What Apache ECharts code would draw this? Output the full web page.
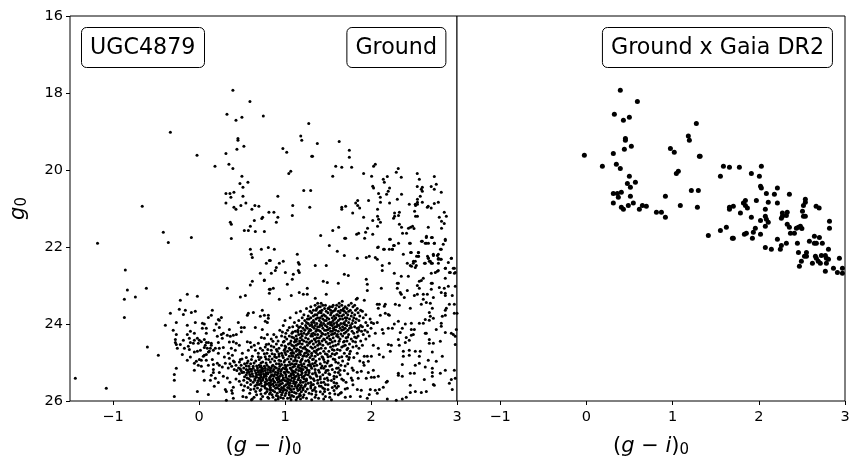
<!DOCTYPE html>
<html><head><meta charset="utf-8">
<style>html,body{margin:0;padding:0;background:#fff}#c{width:859px;height:468px}</style>
<script src="https://cdn.jsdelivr.net/npm/echarts@6/dist/echarts.min.js"></script>
</head><body><div id="c"></div>
<script>
const xTicks=[-1,0,1,2,3];
const yTicks=[16,18,20,22,24,26];
const panelLabels=['UGC4879','Ground','Ground x Gaia DR2'];

// stars that also have Gaia DR2 counterparts: [g-i, g]
const gaiaStars=[[.394,17.93],[.592,18.22],[.325,18.55],[.499,18.63],[.43,18.71],[1.276,18.79],[1.183,19.12],[1.195,19.23],[.453,19.18],[.453,19.23],[.522,19.38],[.441,19.46],[.313,19.57],[.975,19.44],[1.02,19.54],[1.311,19.64],[1.32,19.64],[-.023,19.62],[.186,19.9],[.348,19.85],[.394,19.96],[1.044,20.09],[1.067,20.03],[.499,20.16],[.569,20.32],[.476,20.35],[.511,20.45],[1.218,20.53],[1.299,20.53],[.313,20.61],[.36,20.61],[.406,20.58],[.371,20.71],[.511,20.68],[.917,20.68],[.313,20.86],[.545,20.86],[.487,20.92],[.65,20.92],[.696,20.94],[1.09,20.92],[1.288,20.97],[.406,20.97],[.43,21.02],[.615,21.02],[.813,21.1],[.871,21.1],[.917,21.23],[1.415,21.7],
[1.59,19.9],[1.66,19.93],[1.775,19.93],[2.03,19.9],[1.914,20.09],[1.555,20.16],[2.007,20.16],[2.02,20.42],[2.03,20.47],[2.216,20.47],[2.088,20.61],[2.181,20.63],[2.355,20.63],[1.845,20.79],[1.822,20.86],[1.845,20.92],[1.868,20.99],[1.972,20.79],[2.11,20.84],[2.216,20.86],[2.54,20.76],[2.54,20.84],[2.518,20.92],[2.665,20.94],[2.7,20.99],[1.705,20.94],[1.66,20.97],[1.66,21.02],[2.076,21.02],[1.787,21.12],[2.507,21.07],[2.518,21.2],[2.54,21.2],[2.274,21.12],[2.33,21.1],[2.32,21.18],[2.274,21.2],[2.262,21.25],[2.076,21.2],[2.088,21.28],[2.11,21.36],[1.914,21.23],[2.02,21.31],[2.076,21.46],[2.82,21.33],[2.82,21.51],[2.33,21.41],[2.355,21.49],[2.46,21.49],[2.483,21.46],[2.436,21.51],[2.5,21.52],[1.624,21.49],[1.555,21.57],[1.96,21.51],[1.937,21.62],[2.02,21.67],[1.856,21.64],[1.833,21.67],[1.694,21.77],[1.705,21.77],[1.926,21.77],[2.367,21.64],[2.413,21.64],[2.216,21.8],[2.645,21.72],[2.703,21.75],[2.587,21.85],[2.448,21.9],[2.645,21.9],[2.668,21.9],[2.737,21.9],[2.262,21.96],[2.32,21.9],[2.25,22.06],[2.076,22.01],[2.146,22.06],[2.808,22.06],[2.46,22.14],[2.553,22.14],[2.553,22.24],[2.53,22.24],[2.657,22.24],[2.668,22.29],[2.69,22.37],[2.714,22.42],[2.726,22.22],[2.772,22.22],[2.784,22.29],[2.808,22.32],[2.784,22.42],[2.935,22.29],[2.494,22.37],[2.471,22.5],[2.622,22.42],[2.772,22.63],[2.866,22.55],[2.912,22.66],[2.97,22.55],[2.97,22.68]];

const groundSparseUpper=[[-.333,19.02],[-.66,20.94],[-.415,21.62],[-.089,21.75],[.748,18.6],[.643,21.31],[.73,21.26],[.74,21.23],[.364,21.36],[.376,21.41],[.597,21.46],[.527,21.57],[.574,21.57],[.655,21.6],[.76,21.6],[.376,21.78],[1.376,19.31],[1.085,21.18],[.899,21.36],[1.63,19.26],[1.748,19.49],[1.748,19.67],[2.05,19.85],[2.317,19.96],[2.294,20.06],[2.19,20.17],[2.352,20.19],[2.143,20.24],[2.155,20.32],[2.2,20.55],[2.108,20.71],[2.306,20.76],[2.445,20.89],[2.538,20.43],[2.562,20.24],[2.538,20.09],[2.736,20.17],[2.759,20.37],[2.7,20.43],[2.736,20.5],[2.817,20.58],[2.597,20.45],[2.585,20.5],[2.597,20.55],[2.573,20.68],[2.515,20.89],[2.54,20.89],[2.597,20.84],[2.655,20.97],[2.736,20.87],[2.783,20.84],[2.852,21.1],[2.794,21.23],[2.876,21.2],[2.852,21.39],[2.666,21.49],[2.864,21.8]];
const groundSparseLeft=[[-1.18,21.9],[-.357,21.88],[-.857,22.6],[-.833,23.12],[-.612,23.07],[-.74,23.3],[-.868,23.36],[-.868,23.83],[-.217,23.38],[-.136,23.23],[-.019,23.28],[-.333,23.72],[-.229,23.62],[-.159,23.64],[-.182,23.75],[-.089,23.7],[-.043,23.67],[-.391,24.03],[-.264,23.96],[-.136,24.03],[-.043,23.96],[.155,23.64],[.143,23.77],[.109,23.83],[.04,23.98],[.062,24],[.085,24.11],[.039,24.11],[.085,24.24],[.2,24],[.236,23.9],[.26,23.83],[.225,23.88],[.236,24.09],[.178,24.16],[-.3,24.16],[-.264,24.27],[-.275,24.4],[-.275,24.48],[-.264,24.53],[-.217,24.53],[-.252,24.63],[-.194,24.79],[-.182,24.42],[-.6,24.6],[-.473,24.81],[-.136,24.27],[-.1,24.19],[-.054,24.24],[-.112,24.37],[-.019,24.37],[.004,24.42],[-.054,24.42],[-.1,24.48],[-.066,24.5],[-.17,24.63],[-.124,24.58],[-.112,24.66],[-.008,24.5],[.027,24.46],[.062,24.4],[.085,24.48],[.073,24.55],[.109,24.48],[.143,24.5],[.097,24.63],[.132,24.63],[.12,24.71],[.167,24.68],[.19,24.63],[.062,24.61],[.143,24.55],[-.054,24.73],[-.019,24.71],[-.1,24.86],[-.136,24.94],[.016,24.68],[.05,24.84],[.085,24.79],[.109,24.73],[.062,24.81],[-.031,24.97],[-.054,25.02],[.004,24.92],[.027,24.94],[-.008,25.07],[-.054,25.2],[.027,25.1],[.05,25.23],[.109,25.07],[.085,24.94],[.155,24.92],[-.264,25.15],[-.287,25.31],[-.287,25.46],[.062,25.46],[-.019,25.75],[.109,25.83],[-.287,25.88],[-1.438,25.41],[-1.078,25.67],[.167,25.05],[.167,25.18],[.167,25.26],[.213,25.02],[.236,25.07],[.271,25.12],[.306,25.02],[.295,24.86],[.225,24.76],[.236,24.63],[.283,24.61],[.225,24.48],[.213,24.32],[.271,24.37],[.26,24.27],[.283,24.24],[.353,24.14],[.329,24.29],[.364,24.32],[.399,24.29],[.434,24.27],[.457,23.96],[.492,24.2],[.492,24.09],[.527,24.09],[.329,23.07],[.481,23.3],[.539,23.26],[.597,22.99],[.62,22.89],[.713,22.68],[.76,22.86],[.783,22.42],[.597,22.06],[.725,22.06],[.806,22.01],[.608,22.19],[.62,22.27],[.818,22.35],[.818,23.1],[.818,23.2],[.562,23.77],[.574,23.72],[.632,23.7],[.736,23.64],[.713,23.8],[.76,23.77],[.806,23.77],[.771,23.93],[.655,24.09],[.806,23.85],[.736,24.14],[.795,23.96],[.353,24.47],[.399,24.46],[.434,24.5],[.376,24.63],[.422,24.68],[.341,24.76],[.388,24.81],[.469,24.55],[.504,24.76],[.562,24.46],[.597,24.48],[.643,24.55],[.69,24.5],[.76,24.37],[.795,24.27],[.725,24.35],[.574,24.68],[.608,24.6],[.655,24.68],[.713,24.63],[.783,24.53],[.55,24.87],[.481,24.92],[.411,24.99],[.353,24.89],[.143,25.33],[.19,25.41],[.132,25.46],[.178,25.62],[.236,25.26],[.283,25.36],[.225,25.52],[.306,25.7],[.318,25.75],[.399,25.64],[.388,25.8],[.399,25.93],[.318,25.98],[.469,25.49],[.515,25.72],[.55,25.9],[.62,25.95]];
const groundSparseRight=[[1.515,21.96],[1.608,22.11],[1.69,22.22],[1.841,22.29],[1.945,22.27],[1.98,22.24],[2.05,22.27],[2.073,22.32],[2.085,22],[2.155,22.06],[2.213,22.06],[2.248,22.06],[2.271,21.96],[2.225,21.8],[2.376,22.19],[2.457,21.9],[2.469,22.14],[2.55,22.14],[2.55,22.24],[2.597,21.85],[2.643,21.75],[2.713,21.75],[2.631,21.9],[2.736,21.9],[2.864,21.83],[2.84,21.93],[2.817,22.06],[2.783,22.19],[2.783,22.32],[2.817,22.32],[2.725,22.19],[2.666,22.29],[2.131,22.48],[2.131,22.61],[2.213,22.42],[2.422,22.42],[2.457,22.48],[2.515,22.37],[2.492,22.42],[2.527,22.48],[2.515,22.53],[2.631,22.42],[2.678,22.37],[2.701,22.42],[2.934,22.29],[2.899,22.4],[2.864,22.55],[2.957,22.55],[2.98,22.66],[2.271,22.68],[2.352,22.76],[2.434,22.76],[2.318,22.94],[2.422,23.13],[2.306,23.07],[2.352,23.23],[2.387,23.31],[2.34,23.18],[2.701,22.68],[2.748,22.66],[2.783,22.61],[2.864,22.81],[2.922,22.66],[2.608,22.81],[2.585,22.87],[2.562,22.89],[2.539,23],[2.562,23.07],[2.701,22.94],[2.713,22.94],[2.701,23.1],[2.794,23.05],[2.852,23.07],[2.899,23.02],[2.98,23.02],[2.945,23.26],[2.817,23.18],[2.864,23.2],[2.864,23.26],[2.608,23.23],[2.655,23.23],[2.504,23.26],[2.539,23.23],[2.725,23.31],[2.643,23.44],[2.69,23.46],[2.713,23.59],[2.678,23.7],[2.69,23.8],[2.608,23.36],[2.283,23.49],[2.329,23.51],[2.457,23.59],[2.585,23.49],[2.911,23.49],[2.969,23.49],[2.876,23.59],[2.864,23.64],[2.969,23.72],[3,23.72],[.876,22.06],[.829,22.35],[.899,22.53],[.887,22.61],[.841,22.68],[.934,22.42],[.98,22.37],[1.143,22.19],[1.155,22.4],[1.166,22.45],[1.155,22.61],[1.166,22.66],[1.352,22.48],[1.48,22.48],[1.004,22.66],[1.097,22.71],[1.085,22.84],[1.027,22.97],[.759,22.87],[1.69,22.71],[1.736,22.74],[1.445,22.89],[1.492,22.92],[1.62,22.94],[1.945,22.84],[1.957,22.97],[1.957,23.13],[1.48,23.23],[1.352,23.33],[1.259,23.07],[1.166,23.18],[1.213,23.23],[1.259,23.23],[1.073,23.26],[.864,23.07],[.829,23.1],[.934,23.36],[1.841,23.33],[1.829,23.36],[1.922,23.38],[1.666,23.41],[2.12,23.07],[2.306,22.94],[2.073,23.49],[2.097,23.49],[2.166,23.49],[2.155,23.54],[2.085,23.59],[2.166,23.72],[2.201,23.75],[2.108,23.77],[2.213,23.77],[2.073,23.96],[2.004,23.96],[2.131,24.14],[2.143,24.24],[2.271,24],[2.201,24.11],[2.248,24.11],[2.318,23.93],[2.399,24],[2.469,23.98],[2.364,24.11],[2.34,24.22],[2.469,24.14],[2.504,24.14],[2.492,24.27],[2.469,24.29],[2.41,24.35],[2.445,24.42],[2.399,24.48],[2.562,23.98],[2.608,23.98],[2.631,23.88],[2.678,23.9],[2.725,23.85],[2.759,24.14],[2.817,23.98],[2.817,24.06],[2.864,23.77],[2.829,23.8],[2.631,24.24],[2.643,24.24],[2.864,24.22],[2.934,24.24],[2.957,24.27],[2.992,24.14],[2.98,24.32],[2.678,24.4],[2.725,24.5],[2.678,24.5],[2.806,24.45],[2.98,24.53],[2.201,24.53],[2.236,24.55],[2.224,24.71],[2.318,24.4],[2.329,24.55],[2.376,24.71],[2.445,24.68],[2.445,24.81],[2.515,24.71],[2.376,24.84],[2.573,24.71],[2.713,24.73],[2.829,24.84],[2.562,24.84],[2.666,24.94],[2.759,24.97],[2.364,25.05],[2.515,25.07],[2.562,25.02],[2.631,25.12],[2.318,25.28],[2.318,25.33],[2.364,25.36],[2.457,25.28],[2.457,25.59],[2.504,25.28],[2.62,25.44],[2.713,25.15],[2.713,25.26],[2.713,25.36],[2.806,25.28],[2.864,25.2],[2.969,25.2],[2.725,25.57],[2.736,25.59],[2.934,25.44],[2.911,25.54],[2.98,25.41],[2.945,25.7],[2.457,25.78],[2.515,25.75],[2.585,25.78],[2.643,25.75],[2.41,25.9],[2.364,25.95],[2.294,25.98],[2.19,25.95],[2.143,25.64],[2.097,25.7],[2.073,25.8],[2.05,25.72],[2.027,25.2],[2.085,25.36],[2.038,25.38],[2.004,25.38],[1.969,25.26],[1.945,25.41],[2.19,25.49],[2.178,25.51],[1.992,25.7],[1.98,25.83],[1.887,25.72],[1.841,25.7],[1.783,25.46],[1.852,25.41],[1.887,25.23],[1.911,25],[1.969,24.97],[2.027,24.55],[2.097,24.79],[2.143,24.86],[2.085,24.63],[2.004,24.84],[1.957,24.84],[1.922,24.84],[1.876,25.88],[1.957,25.93],[1.76,25.88],[1.701,25.9],[1.643,25.8],[1.725,25.67],[1.655,25.78],[1.794,25.2],[1.748,24.87]];

// the crowded part of the diagram, estimated strip by strip: [g, [g-i values in that strip]]
const groundDense=[
[23.46,[1.38,1.42,1.63,1.77]],
[23.51,[1.35,1.44,1.47,1.56,1.6,1.66,1.74,1.81]],
[23.55,[1.3,1.39,1.41,1.52,1.55,1.63,1.7,1.79]],
[23.6,[1.25,1.37,1.46,1.5,1.51,1.59,1.68,1.72,1.84]],
[23.64,[1.33,1.36,1.43,1.53,1.58,1.65,1.67,1.76,1.82,1.88]],
[23.67,[1.18,1.29,1.41,1.48,1.56,1.62,1.69,1.74,1.9]],
[23.71,[1.13,1.31,1.39,1.42,1.5,1.54,1.64,1.71,1.78,1.85]],
[23.76,[1.22,1.35,1.37,1.45,1.53,1.6,1.61,1.68,1.73,1.81,1.94]],
[23.79,[1.27,1.33,1.43,1.47,1.57,1.63,1.66,1.77,1.87]],
[23.84,[1.06,1.2,1.3,1.38,1.41,1.49,1.55,1.59,1.7,1.72,1.8,1.91]],
[23.87,[1.26,1.28,1.36,1.44,1.51,1.58,1.64,1.67,1.75,1.83,1.99]],
[23.91,[1,1.16,1.23,1.33,1.4,1.46,1.48,1.56,1.62,1.71,1.79,1.86]],
[23.96,[1.11,1.25,1.31,1.34,1.42,1.52,1.54,1.6,1.69,1.74,1.82,1.94]],
[23.99,[1.2,1.27,1.37,1.45,1.5,1.57,1.65,1.68,1.78,2.03]],
[24.04,[.98,1.14,1.24,1.29,1.35,1.43,1.47,1.55,1.63,1.72,1.76,1.88,1.96]],
[24.07,[1.09,1.18,1.32,1.38,1.4,1.49,1.58,1.6,1.67,1.81,1.9]],
[24.11,[1.21,1.26,1.34,1.44,1.52,1.56,1.64,1.7,1.75,1.84,2]],
[24.16,[.94,1.03,1.15,1.23,1.3,1.39,1.46,1.48,1.59,1.66,1.73,1.86,1.93]],
[24.19,[1.12,1.19,1.28,1.36,1.41,1.53,1.55,1.62,1.78,1.89]],
[24.24,[1.01,1.08,1.22,1.27,1.33,1.43,1.5,1.58,1.69,1.8,2.05]],
[24.27,[.87,1.16,1.25,1.35,1.38,1.47,1.54,1.61,1.74,1.91]],
[24.31,[.96,1.05,1.13,1.2,1.3,1.32,1.42,1.51,1.6,1.67,1.85,1.98]],
[24.36,[1.1,1.18,1.24,1.37,1.4,1.49,1.56,1.71,1.83]],
[24.39,[.84,1.02,1.14,1.27,1.34,1.45,1.52,1.64,1.77,1.94]],
[24.44,[.92,1.07,1.17,1.22,1.31,1.39,1.43,1.58,1.72,1.88]],
[24.47,[.98,1.11,1.25,1.29,1.36,1.48,1.55,1.68,1.82]],
[24.52,[.81,.9,1.04,1.15,1.2,1.33,1.41,1.5,1.62,1.75]],
[24.55,[.96,1.08,1.13,1.26,1.38,1.44,1.59,1.7,1.9]],
[24.6,[.77,.87,1.01,1.18,1.23,1.3,1.35,1.53,1.66,1.79]],
[24.63,[.93,1.05,1.11,1.21,1.32,1.42,1.47,1.73,1.86]],
[24.68,[.74,.84,.99,1.08,1.16,1.26,1.37,1.57,1.64]],
[24.71,[.91,1.03,1.13,1.19,1.28,1.34,1.45,1.51,1.76]],
[24.76,[.69,.79,.96,1.07,1.1,1.23,1.31,1.41,1.6,1.69,1.84]],
[24.79,[.88,1.01,1.15,1.18,1.27,1.38,1.49,1.58]],
[24.84,[.62,.82,.93,1.05,1.09,1.21,1.25,1.35,1.53,1.72]],
[24.87,[.72,.9,.98,1.12,1.16,1.29,1.44,1.63,1.8]],
[24.91,[.5,.78,.85,1.03,1.07,1.2,1.33,1.4,1.56]],
[24.96,[.4,.57,.66,.88,.95,1.1,1.14,1.24,1.36,1.5,1.67,1.87]],
[24.99,[.47,.74,.83,.99,1.05,1.18,1.28,1.46,1.59]],
[25.03,[.36,.53,.6,.9,.93,1.08,1.13,1.22,1.32,1.41,1.73]],
[25.07,[.43,.49,.7,.79,.86,1.0,1.03,1.16,1.27,1.37,1.54,1.65,1.92]],
[25.1,[.38,.58,.63,.76,.94,1.11,1.2,1.3,1.47]],
[25.14,[.34,.46,.52,.68,.73,.84,.9,.98,1.06,1.17,1.25,1.42,1.62,1.78]],
[25.18,[.41,.55,.61,.8,.87,.96,1.02,1.13,1.21,1.35,1.55]],
[25.21,[.44,.49,.65,.71,.77,.92,1.08,1.16,1.28,1.48,1.69]],
[25.25,[.52,.58,.69,.83,.89,.99,1.04,1.12,1.24,1.4,1.58,1.84]],
[25.29,[.47,.62,.75,.8,.95,1.07,1.15,1.32,1.51,1.73]],
[25.32,[.55,.67,.72,.85,.91,1.01,1.1,1.19,1.27,1.44,1.64]],
[25.36,[.6,.63,.78,.87,.94,1.05,1.13,1.22,1.37,1.57]],
[25.4,[.33,.56,.7,.82,.9,.98,1.08,1.16,1.3,1.49,1.77]],
[25.43,[.43,.65,.74,.86,.93,1.03,1.11,1.25,1.41,1.66]],
[25.47,[.6,.69,.79,.84,.96,1.0,1.07,1.18,1.34,1.54]],
[25.51,[.36,.63,.77,.88,.92,1.04,1.13,1.21,1.45,1.71]],
[25.54,[.72,.81,.97,1.06,1.1,1.27,1.38,1.6]],
[25.58,[.49,.67,.84,.9,.94,1.01,1.16,1.31,1.5,1.79]],
[25.62,[.76,.87,.99,1.08,1.12,1.23,1.42,1.62]],
[25.65,[.57,.83,.91,.96,1.03,1.18,1.35,1.55]],
[25.69,[.64,.79,.93,1.06,1.1,1.26,1.46,1.7]],
[25.73,[.38,.71,.86,.98,1.02,1.15,1.32,1.57]],
[25.76,[.88,.94,1.08,1.19,1.41]],
[25.8,[.59,.77,.91,1.01,1.13,1.28,1.52]],
[25.84,[.67,.85,.96,1.05,1.22,1.36,1.62]],
[25.88,[.51,.74,.92,1.1,1.16,1.47]],
[25.93,[.81,.98,1.03,1.25,1.39]],
[25.97,[.61,.89,1.07,1.13,1.31,1.54]],
// second pass over the darkest parts
[24.02,[1.31,1.41,1.53,1.61,1.7]],[24.14,[1.29,1.37,1.5,1.57,1.68]],[24.26,[1.19,1.31,1.44,1.56,1.65]],[24.41,[1.12,1.2,1.35,1.46,1.53]],[24.5,[1.06,1.17,1.28,1.4,1.52]],
[24.65,[1.0,1.14,1.24,1.39]],[24.74,[1.0,1.09,1.17,1.25,1.36]],[24.82,[.97,1.08,1.13,1.22,1.31]],[24.94,[.93,1.0,1.12,1.19,1.27]],[25.05,[.96,1.06,1.11,1.19,1.29]],
[25.12,[.71,.81,.88,1.01,1.09,1.15,1.23]],[25.16,[.48,.59,.74,.93,1.0,1.07,1.19]],[25.23,[.61,.74,.86,.95,1.02,1.1,1.19]],[25.27,[.66,.78,.92,1.0,1.09,1.2]],[25.34,[.76,.84,.97,1.07,1.16]],
[25.38,[.67,.75,.92,1.01,1.11,1.2]],[25.45,[.82,.91,.98,1.05,1.15]],[25.49,[.72,.87,.94,1.02,1.1,1.24]],[25.56,[.79,.86,.95,1.03,1.12]],[25.6,[.82,.93,1.05,1.19]],
[25.67,[.89,.98,1.05,1.14]],[25.71,[.84,.95,1.0,1.07,1.21]],[25.78,[.83,.97,1.05,1.11]],[25.86,[.9,1.0,1.08,1.18]],[25.91,[.95,1.06,1.14]],
// third pass over the flanks of the crowded part
[24.09,[1.05,1.16,1.25,1.77,1.86]],[24.21,[.97,1.09,1.15,1.71,1.84,1.96]],[24.34,[.9,1.0,1.08,1.62,1.73,1.81]],[24.45,[.86,.99,1.13,1.63,1.69,1.79]],[24.57,[.84,1.0,1.1,1.56,1.68,1.83]],
[24.66,[.8,.9,1.06,1.55,1.61,1.72]],[24.77,[.76,.85,.93,1.47,1.55,1.75]],[24.85,[.69,.77,.88,1.43,1.5,1.66]],[24.92,[.61,.7,.81,1.32,1.45,1.58,1.74]],[25.01,[.56,.64,.72,.78,1.35,1.49,1.62]],
[25.09,[.55,.67,.72,.85,1.34,1.43,1.52,1.7]],[25.15,[.63,.77,.83,1.31,1.45,1.6]],[25.2,[.57,.68,.73,.83,1.26,1.39,1.5,1.64]],[25.26,[.5,.56,.72,.8,1.28,1.35,1.47,1.62]],[25.31,[.59,.7,.78,.88,1.24,1.36,1.52]],
[25.37,[.53,.66,.72,.83,1.29,1.41,1.6]],[25.42,[.58,.71,.78,1.22,1.33,1.46,1.57]],[25.46,[.52,.65,.74,1.25,1.38,1.5,1.68]],[25.52,[.56,.68,.83,1.18,1.3,1.42,1.57]],[25.57,[.6,.7,.77,1.24,1.33,1.47]],
[25.61,[.53,.65,.73,1.15,1.3,1.4,1.58]],[25.66,[.68,.77,1.21,1.3,1.44,1.6]],[25.7,[.6,.72,.82,1.17,1.34,1.5]],[25.75,[.66,.79,1.24,1.36,1.46]],[25.82,[.72,.82,1.17,1.31,1.44,1.58]],[25.9,[.64,.8,.86,1.21,1.35,1.52]],[25.95,[.72,.92,1.18,1.45]]
];

const denseStars=groundDense.flatMap(r=>r[1].map(c=>[c,r[0]]));
const groundStars=[...gaiaStars,...groundSparseUpper,...groundSparseLeft,...groundSparseRight,...denseStars];

const FONT='"DejaVu Sans"';
const tickFmt=v=>String(v).replace('-','\u2212');
function xAxis(i){return{gridIndex:i,type:'value',min:-1.5,max:3,
  name:'{n|(}{i|g}{n| \u2212 }{i|i}{n|)}{s|0}',nameLocation:'middle',nameGap:34,
  nameTextStyle:{rich:{n:{fontFamily:FONT,fontSize:21,color:'#000'},i:{fontFamily:FONT,fontStyle:'italic',fontSize:21,color:'#000'},s:{fontFamily:FONT,fontSize:15,color:'#000',padding:[8,0,0,0]}}},
  axisLine:{show:false,onZero:false},splitLine:{show:false},
  axisTick:{show:true,length:4,lineStyle:{color:'#000',width:1},customValues:xTicks},
  axisLabel:{color:'#000',fontFamily:FONT,fontSize:14.5,margin:9,customValues:xTicks,formatter:tickFmt}};}
const option={animation:false,backgroundColor:'#fff',
 title:[
  {text:panelLabels[0],left:81,top:27,padding:[10,9,9,9]},
  {text:panelLabels[1],right:413,top:27,padding:[10,9,9,9]},
  {text:panelLabels[2],right:26,top:27,padding:[10,9,9,9]}
 ].map(t=>({...t,borderColor:'#000',borderWidth:1,borderRadius:5,backgroundColor:'#fff',zlevel:2,
   textStyle:{fontFamily:FONT,fontSize:22.2,fontWeight:'normal',color:'#000'}})),
 grid:[{left:70,top:16,width:387,height:385,show:true,borderColor:'#000',borderWidth:1,backgroundColor:'#fff'},
       {left:457,top:16,width:388,height:385,show:true,borderColor:'#000',borderWidth:1,backgroundColor:'#fff'}],
 xAxis:[xAxis(0),xAxis(1)],
 yAxis:[{gridIndex:0,type:'value',inverse:true,min:16,max:26,interval:2,
   name:'{i|g}{s|0}',nameLocation:'middle',nameGap:40,
   nameTextStyle:{rich:{i:{fontFamily:FONT,fontStyle:'italic',fontSize:21,color:'#000'},s:{fontFamily:FONT,fontSize:15,color:'#000',padding:[8,0,0,0]}}},
   axisLine:{show:false,onZero:false},splitLine:{show:false},axisTick:{show:true,length:4,lineStyle:{color:'#000',width:1}},
   axisLabel:{color:'#000',fontFamily:FONT,fontSize:14.5,margin:7,formatter:v=>yTicks.includes(v)?String(v):''}},
  {gridIndex:1,type:'value',inverse:true,min:16,max:26,interval:2,axisLine:{show:false,onZero:false},splitLine:{show:false},axisTick:{show:false},axisLabel:{show:false}}],
 series:[
  {type:'scatter',name:'Ground',xAxisIndex:0,yAxisIndex:0,data:groundStars,symbolSize:3,itemStyle:{color:'#000',opacity:1},silent:true,clip:true},
  {type:'scatter',name:'Ground x Gaia DR2',xAxisIndex:1,yAxisIndex:1,data:gaiaStars,symbolSize:5,itemStyle:{color:'#000',opacity:1},silent:true,clip:true}
 ]};
echarts.init(document.getElementById('c'),null,{renderer:'canvas'}).setOption(option);
</script></body></html>
